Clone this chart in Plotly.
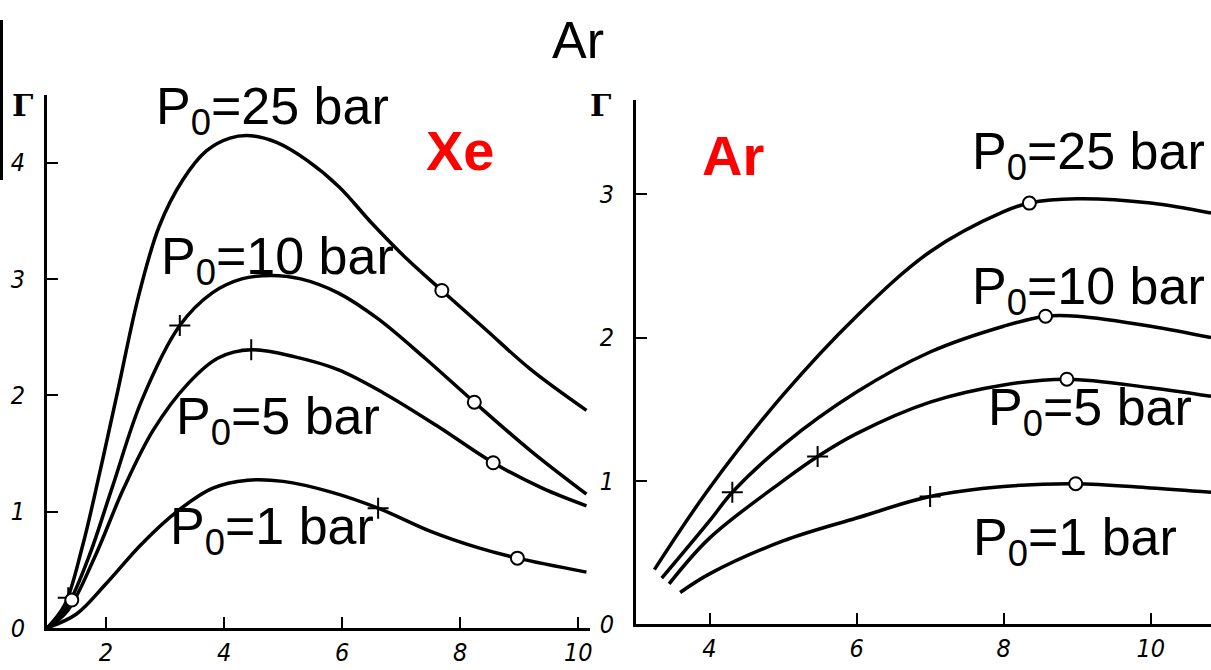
import plotly.graph_objects as go

# ---------------- data ----------------
# Xe panel
xe25_x = [1.0, 1.3, 1.6, 1.9, 2.2, 2.55, 2.9, 3.3, 3.7, 4.1, 4.45, 4.9, 5.4, 5.95, 6.5, 7.1, 7.69, 8.4, 9.2, 10.14]
xe25_y = [0.0, 0.2, 0.7, 1.35, 2.04, 2.85, 3.45, 3.85, 4.1, 4.21, 4.23, 4.17, 4.02, 3.79, 3.48, 3.17, 2.9, 2.58, 2.22, 1.87]
xe10_x = [1.0, 1.3, 1.7, 2.1, 2.6, 3.25, 3.8, 4.3, 4.8, 5.3, 5.93, 6.6, 7.4, 8.24, 9.2, 10.14]
xe10_y = [0.0, 0.15, 0.6, 1.2, 1.95, 2.6, 2.88, 3.0, 3.03, 3.0, 2.88, 2.66, 2.32, 1.94, 1.52, 1.15]
xe5_x = [1.0, 1.35, 1.8, 2.3, 2.8, 3.39, 3.9, 4.46, 5.2, 5.93, 6.7, 7.6, 8.56, 9.4, 10.14]
xe5_y = [0.0, 0.15, 0.6, 1.2, 1.7, 2.1, 2.32, 2.39, 2.33, 2.22, 2.02, 1.74, 1.42, 1.2, 1.05]
xe1_x = [1.0, 1.5, 2.0, 2.6, 3.2, 3.8, 4.4, 5.0, 5.8, 6.61, 7.5, 8.3, 8.97, 10.14]
xe1_y = [0.0, 0.12, 0.38, 0.72, 1.0, 1.2, 1.27, 1.26, 1.17, 1.03, 0.83, 0.69, 0.6, 0.48]
xe_circle_x = [7.69, 8.24, 8.56, 8.97, 1.42]
xe_circle_y = [2.9, 1.94, 1.42, 0.6, 0.24]
xe_plus_x = [3.25, 4.46, 6.61, 1.36]
xe_plus_y = [2.6, 2.39, 1.03, 0.26]

# Ar panel
ar25_x = [3.25, 4.0, 5.0, 6.0, 7.0, 8.0, 8.35, 9.0, 10.0, 10.82]
ar25_y = [0.38, 0.95, 1.6, 2.15, 2.6, 2.88, 2.94, 2.97, 2.94, 2.87]
ar10_x = [3.35, 4.0, 4.31, 5.0, 6.0, 7.0, 8.0, 8.57, 9.0, 10.0, 10.82]
ar10_y = [0.32, 0.72, 0.92, 1.25, 1.62, 1.9, 2.08, 2.15, 2.15, 2.08, 2.0]
ar5_x = [3.45, 4.0, 5.0, 5.47, 6.0, 7.0, 8.0, 8.86, 10.0, 10.82]
ar5_y = [0.28, 0.6, 1.0, 1.17, 1.33, 1.55, 1.67, 1.71, 1.65, 1.59]
ar1_x = [3.6, 4.0, 5.0, 6.0, 7.0, 8.0, 8.98, 10.0, 10.82]
ar1_y = [0.22, 0.35, 0.58, 0.74, 0.89, 0.96, 0.98, 0.95, 0.92]
ar_circle_x = [8.35, 8.57, 8.86, 8.98]
ar_circle_y = [2.94, 2.15, 1.71, 0.98]
ar_plus_x = [4.31, 5.47, 7.0]
ar_plus_y = [0.92, 1.17, 0.89]

xe_ticks = [2, 4, 6, 8, 10]
xe_yticks = [0, 1, 2, 3, 4]
ar_ticks = [4, 6, 8, 10]
ar_yticks = [0, 1, 2, 3]

W, H = 1211, 670

fig = go.Figure()

line_style = dict(color="black", width=3.5, shape="spline", smoothing=1.0)

for xs, ys in [(xe25_x, xe25_y), (xe10_x, xe10_y), (xe5_x, xe5_y), (xe1_x, xe1_y)]:
    fig.add_trace(go.Scatter(x=xs, y=ys, mode="lines", line=line_style,
                             xaxis="x", yaxis="y", showlegend=False, hoverinfo="skip"))
for xs, ys in [(ar25_x, ar25_y), (ar10_x, ar10_y), (ar5_x, ar5_y), (ar1_x, ar1_y)]:
    fig.add_trace(go.Scatter(x=xs, y=ys, mode="lines", line=line_style,
                             xaxis="x2", yaxis="y2", showlegend=False, hoverinfo="skip"))

circle_marker = dict(symbol="circle", size=13, color="white", line=dict(color="black", width=2))
plus_marker = dict(symbol="cross-thin-open", size=15, color="black", line=dict(color="black", width=2))

fig.add_trace(go.Scatter(x=xe_plus_x, y=xe_plus_y, mode="markers", marker=plus_marker,
                         xaxis="x", yaxis="y", showlegend=False))
fig.add_trace(go.Scatter(x=xe_circle_x, y=xe_circle_y, mode="markers", marker=circle_marker,
                         xaxis="x", yaxis="y", showlegend=False))
fig.add_trace(go.Scatter(x=ar_plus_x, y=ar_plus_y, mode="markers", marker=plus_marker,
                         xaxis="x2", yaxis="y2", showlegend=False))
fig.add_trace(go.Scatter(x=ar_circle_x, y=ar_circle_y, mode="markers", marker=circle_marker,
                         xaxis="x2", yaxis="y2", showlegend=False))


def ital(vals):
    return ["<i>%d</i>" % v for v in vals]


axis_common = dict(showline=True, linecolor="black", linewidth=3, showgrid=False, zeroline=False,
                   automargin=False,
                   ticks="inside", ticklen=11, tickwidth=2, tickcolor="black",
                   tickfont=dict(family="DejaVu Sans Condensed, DejaVu Sans", size=25, color="black"))

fig.update_layout(
    width=W, height=H,
    margin=dict(l=0, r=0, t=0, b=0, autoexpand=False),
    paper_bgcolor="white", plot_bgcolor="white",
    showlegend=False,
    xaxis=dict(domain=[47 / W, 590 / W], range=[1.0, 10.2], tickmode="array",
               tickvals=xe_ticks, ticktext=ital(xe_ticks),
               anchor="y", ticklabelstandoff=0, **axis_common),
    yaxis=dict(domain=[(H - 628) / H, (H - 95) / H], range=[0, 4.58], tickmode="array",
               tickvals=xe_yticks, ticktext=ital(xe_yticks),
               anchor="x", ticklabelstandoff=14, **axis_common),
    xaxis2=dict(domain=[636 / W, 1.0], range=[3.0, 10.82], tickmode="array",
                tickvals=ar_ticks, ticktext=ital(ar_ticks),
                anchor="y2", ticklabelstandoff=0, **axis_common),
    yaxis2=dict(domain=[(H - 624) / H, (H - 100) / H], range=[0, 3.66], tickmode="array",
                tickvals=ar_yticks, ticktext=ital(ar_yticks),
                anchor="x2", ticklabelstandoff=14, **axis_common),
)


def px(xp, yp):
    return xp / W, 1 - yp / H


ann = []
label_font = dict(family="Liberation Sans, Arial", size=52, color="black")
for text, xp, yp in [
    ("P<sub>0</sub>=25 bar", 272, 110),
    ("P<sub>0</sub>=10 bar", 277, 260),
    ("P<sub>0</sub>=5 bar", 278, 420),
    ("P<sub>0</sub>=1 bar", 272, 530),
    ("P<sub>0</sub>=25 bar", 1088, 155),
    ("P<sub>0</sub>=10 bar", 1088, 290),
    ("P<sub>0</sub>=5 bar", 1090, 411),
    ("P<sub>0</sub>=1 bar", 1075, 541),
]:
    x, y = px(xp, yp)
    ann.append(dict(text=text, x=x, y=y, xref="paper", yref="paper", showarrow=False,
                    xanchor="center", yanchor="middle", font=label_font))

red_font = dict(family="Liberation Sans, Arial", size=56, color="#ff0000", weight="bold")
for text, xp, yp in [("Xe", 460, 150), ("Ar", 733, 155)]:
    x, y = px(xp, yp)
    ann.append(dict(text=text, x=x, y=y, xref="paper", yref="paper", showarrow=False,
                    xanchor="center", yanchor="middle", font=red_font))

x, y = px(578, 40)
ann.append(dict(text="Ar", x=x, y=y, xref="paper", yref="paper", showarrow=False,
                xanchor="center", yanchor="middle",
                font=dict(family="Liberation Sans, Arial", size=52, color="black")))

gamma_font = dict(family="DejaVu Serif", size=30, color="black", weight="bold")
for xp, yp in [(22, 106), (600, 106)]:
    x, y = px(xp, yp)
    ann.append(dict(text="Γ", x=x, y=y, xref="paper", yref="paper", showarrow=False,
                    xanchor="center", yanchor="middle", font=gamma_font))

fig.update_layout(annotations=ann)

# scan artifact: dark bar at the left edge
fig.add_shape(type="line", xref="paper", yref="paper", x0=1.5 / W, x1=1.5 / W,
              y0=1 - 20 / H, y1=1 - 180 / H, line=dict(color="black", width=3))

fig.write_html("out.html")
